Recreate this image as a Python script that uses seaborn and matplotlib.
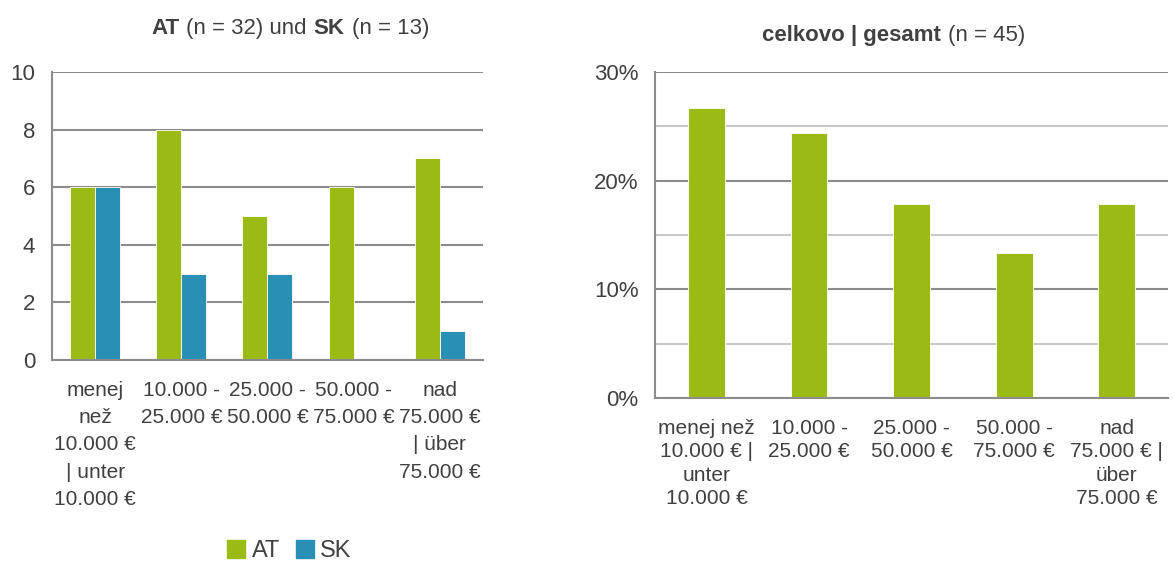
import numpy as np
import pandas as pd
import seaborn as sns
import matplotlib.pyplot as plt
from matplotlib.lines import Line2D
from matplotlib.offsetbox import TextArea, HPacker, AnchoredOffsetbox
from matplotlib.ticker import FixedLocator, PercentFormatter

# data
left_labels = ['menej\nnež\n10.000 €\n| unter\n10.000 €', '10.000 -\n25.000 €',
               '25.000 -\n50.000 €', '50.000 -\n75.000 €', 'nad\n75.000 €\n| über\n75.000 €']
right_labels = ['menej než\n10.000 € |\nunter\n10.000 €', '10.000 -\n25.000 €',
                '25.000 -\n50.000 €', '50.000 -\n75.000 €', 'nad\n75.000 € |\nüber\n75.000 €']
at_counts = [6, 8, 5, 6, 7]
sk_counts = [6, 3, 3, 0, 1]
total_share = [26.7, 24.4, 17.8, 13.3, 17.8]  # percent, n = 45

GREEN = '#9bbb14'
BLUE = '#2a8fb5'
TXT = '#404040'
GRID = '#8c8c8c'

sns.set_style('white')
plt.rcParams['font.family'] = ['Liberation Sans', 'DejaVu Sans']

fig = plt.figure(figsize=(11.74, 5.66), dpi=100)
ax1 = fig.add_axes([0.0443, 0.364, 0.367, 0.509])
ax2 = fig.add_axes([0.558, 0.297, 0.437, 0.576])

df = pd.DataFrame({'cat': left_labels * 2,
                   'country': ['AT'] * 5 + ['SK'] * 5,
                   'n': at_counts + sk_counts})
sns.barplot(data=df, x='cat', y='n', hue='country', palette=[GREEN, BLUE],
            width=0.58, saturation=1, legend=False, ax=ax1, linewidth=0.6)
sns.barplot(x=right_labels, y=total_share, color=GREEN, width=0.36,
            saturation=1, ax=ax2, linewidth=0.6)


def style(ax, ymax, step, pad, spacing):
    ax.set_xlim(-0.5, 4.5)
    ax.set_ylim(0, ymax)
    ax.set_yticks(np.arange(0, ymax + step / 2, step))
    ax.yaxis.grid(True, which='major', color=GRID, lw=1.5)
    ax.set_axisbelow(True)
    for s in ['top', 'right']:
        ax.spines[s].set_visible(False)
    for s in ['left', 'bottom']:
        ax.spines[s].set_color(GRID)
        ax.spines[s].set_linewidth(1.5)
    ax.xaxis.set_minor_locator(FixedLocator(np.arange(-0.5, 5, 1)))
    ax.tick_params(axis='x', which='major', length=0, pad=pad, labelsize=15,
                   labelcolor=TXT)
    ax.tick_params(axis='x', which='minor', length=6, width=1.5, color=GRID,
                   direction='out')
    ax.tick_params(axis='y', which='major', length=6, width=1.5, color=GRID,
                   labelsize=16, labelcolor=TXT, pad=6)
    ax.set_xlabel('')
    ax.set_ylabel('')
    for t in ax.get_xticklabels():
        t.set_linespacing(spacing)


style(ax1, 10, 2, 15, 1.55)
style(ax2, 30, 10, 15, 1.3)
ax2.yaxis.set_major_formatter(PercentFormatter(decimals=0))
ax2.yaxis.set_minor_locator(FixedLocator([5, 15, 25]))
ax2.yaxis.grid(True, which='minor', color='#c8c8c8', lw=1.5)
ax2.tick_params(axis='y', which='minor', length=0)


def title(parts, x, y):
    kids = [TextArea(t, textprops=dict(fontsize=16, color=TXT,
                                       fontweight='bold' if b else 'normal'))
            for t, b in parts]
    box = HPacker(children=kids, align='baseline', pad=0, sep=5)
    fig.add_artist(AnchoredOffsetbox(loc='center', child=box, frameon=False,
                                     pad=0, borderpad=0, bbox_to_anchor=(x, y),
                                     bbox_transform=fig.transFigure))


title([('AT', True), ('(n = 32) und', False), ('SK', True), ('(n = 13)', False)],
      0.247, 0.950)
title([('celkovo | gesamt', True), ('(n = 45)', False)], 0.761, 0.937)

handles = [Line2D([], [], ls='', marker='s', markersize=13, color=GREEN, label='AT'),
           Line2D([], [], ls='', marker='s', markersize=13, color=BLUE, label='SK')]
fig.legend(handles=handles, loc='center', bbox_to_anchor=(0.247, 0.026), ncol=2,
           frameon=False, fontsize=17, handlelength=0.7, handletextpad=0.3,
           columnspacing=0.7, labelcolor=TXT)

fig.savefig('out.png', dpi=100)
